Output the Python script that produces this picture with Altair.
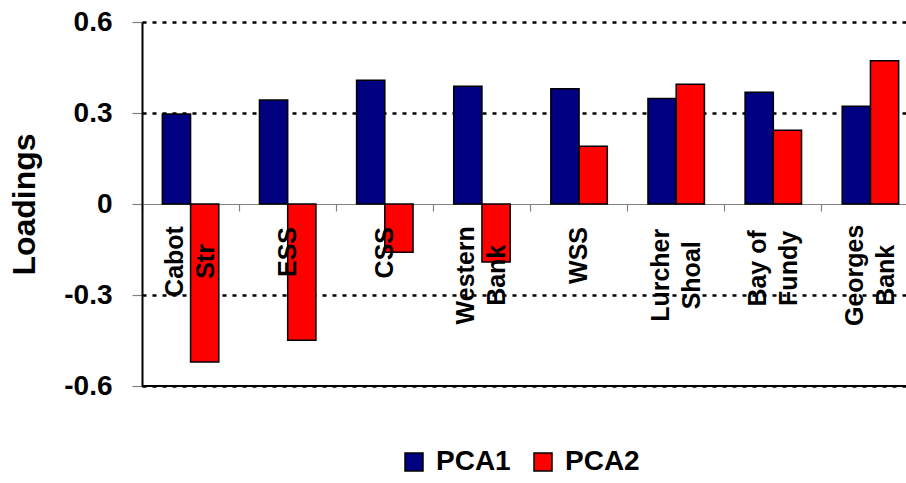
import altair as alt
import pandas as pd

# ---- data ----
regions = ["Cabot Str", "ESS", "CSS", "Western Bank", "WSS",
           "Lurcher Shoal", "Bay of Fundy", "Georges Bank"]
label_lines = [["Cabot", "Str"], ["ESS"], ["CSS"], ["Western", "Bank"], ["WSS"],
               ["Lurcher", "Shoal"], ["Bay of", "Fundy"], ["Georges", "Bank"]]
pca1 = [0.297, 0.343, 0.408, 0.388, 0.380, 0.348, 0.368, 0.322]
pca2 = [-0.521, -0.449, -0.159, -0.191, 0.190, 0.395, 0.243, 0.472]
series = ["PCA1", "PCA2"]
colors = ["#000080", "#FF0000"]
y_ticks = [-0.6, -0.3, 0, 0.3, 0.6]
y_title = "Loadings"

# ---- layout / style ----
FONT = "Liberation Sans"
PLOT_W = 764
PLOT_H = 364
RANGE_W = 777
Y_MIN, Y_MAX = -0.6, 0.6
PX_PER_UNIT = PLOT_H / (Y_MAX - Y_MIN)
LABEL_GAP = 23
CHAR_W = 13.8
LINE_H = 31

bar_df = pd.DataFrame({
    "region": regions * 2,
    "series": [series[0]] * len(regions) + [series[1]] * len(regions),
    "loading": pca1 + pca2,
})

lab_df = pd.DataFrame({
    "region": regions,
    "lines": label_lines,
    "n": [len(l) for l in label_lines],
    "maxlen": [max(len(s) for s in l) for l in label_lines],
})

x_scale = alt.Scale(range=[0, RANGE_W], paddingInner=0, paddingOuter=0)
y_scale = alt.Scale(domain=[Y_MIN, Y_MAX], nice=False, zero=False)

x_axis = alt.Axis(
    offset=-PLOT_H / 2, labels=False, title=None, grid=False,
    domainColor="#808080", domainWidth=1.2, tickColor="#808080", tickWidth=1.2,
    tickSize=7, bandPosition=0,
)
y_axis = alt.Axis(
    values=y_ticks,
    labelExpr="datum.value == 0 ? '0' : (datum.value < 0 ? '-' : '') + format(abs(datum.value), '.1f')",
    labelFont=FONT, labelFontSize=28, labelFontWeight="bold", labelColor="black",
    labelPadding=20, tickSize=10, tickColor="#808080", tickWidth=1.2,
    domainColor="black", domainWidth=2,
    grid=True, gridColor="black", gridDash=[4, 6], gridWidth=2.5,
    gridOpacity={"condition": {"test": "datum.value === 0", "value": 0}, "value": 1},
    title=y_title, titleFont=FONT, titleFontSize=32, titleFontWeight="bold",
    titleColor="black", titleAngle=270, titleAlign="center", titleBaseline="middle",
    titleX=-118, titleY=PLOT_H / 2,
)


def x_enc():
    return alt.X("region:N", sort=regions, scale=x_scale, axis=x_axis)


bars = alt.Chart(bar_df).mark_bar(stroke="black", strokeWidth=1.5).encode(
    x=x_enc(),
    xOffset=alt.XOffset("series:N", sort=series,
                        scale=alt.Scale(paddingInner=0, paddingOuter=0.72)),
    y=alt.Y("loading:Q", scale=y_scale, axis=y_axis),
    color=alt.Color(
        "series:N", sort=series,
        scale=alt.Scale(domain=series, range=colors),
        legend=alt.Legend(
            title=None, orient="none", legendX=258, legendY=426,
            direction="horizontal", symbolType="square", symbolSize=324,
            symbolStrokeColor="black", symbolStrokeWidth=1.5, symbolOpacity=1,
            labelFont=FONT, labelFontSize=28, labelFontWeight="bold",
            labelColor="black", labelOffset=8, columnPadding=18, labelLimit=300,
        ),
    ),
)

text_style = dict(angle=270, baseline="middle", font=FONT, fontSize=25,
                  fontWeight="bold", lineHeight=LINE_H, color="black")

labels_multi = alt.Chart(lab_df).transform_filter("datum.n > 1").transform_calculate(
    lab_y=f"-({LABEL_GAP} + {CHAR_W} * datum.maxlen / 2) / {PX_PER_UNIT}"
).mark_text(align="center", dy=-LINE_H / 2, **text_style).encode(
    x=x_enc(),
    y=alt.Y("lab_y:Q", scale=y_scale, axis=y_axis),
    text=alt.Text("lines:N"),
)

labels_single = alt.Chart(lab_df).transform_filter("datum.n == 1").transform_calculate(
    lab_y="0"
).mark_text(align="right", dx=-LABEL_GAP, **text_style).encode(
    x=x_enc(),
    y=alt.Y("lab_y:Q", scale=y_scale, axis=y_axis),
    text=alt.Text("lines:N"),
)

bottom_rule = alt.Chart(bar_df).mark_rule(color="black", strokeWidth=1.5).encode(
    y=alt.YDatum(Y_MIN, scale=y_scale, axis=y_axis)
)

chart = alt.layer(bars, bottom_rule, labels_multi, labels_single).properties(
    width=PLOT_W, height=PLOT_H,
    autosize=alt.AutoSizeParams(type="none"),
    padding={"left": 142, "top": 22, "right": 0, "bottom": 97},
    background="white",
).configure_view(stroke=None)

chart.save("out.html", embed_options={"renderer": "svg", "actions": False})
